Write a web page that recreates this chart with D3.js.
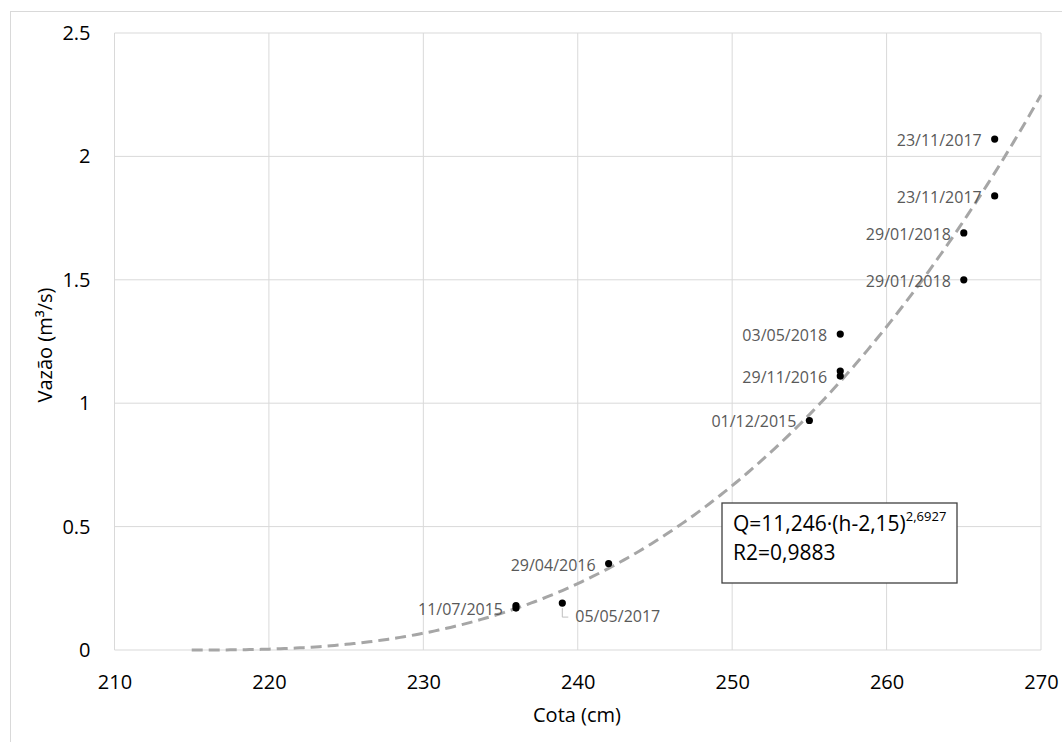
<!DOCTYPE html>
<html>
<head>
<meta charset="utf-8">
<script src="https://cdn.jsdelivr.net/npm/d3@7"></script>
<style>
  body { margin: 0; background: #fff; }
  svg text { font-family: "Open Sans", sans-serif; }
</style>
</head>
<body>
<div class="chart"></div>
<script>
// measured points (cota in cm, vazao in m3/s)
var cota = [236, 236, 239, 242, 255, 257, 257, 257, 265, 265, 267, 267];
var vazao = [0.17, 0.18, 0.19, 0.35, 0.93, 1.11, 1.13, 1.28, 1.50, 1.69, 1.84, 2.07];
var dateLabels = ['11/07/2015', '', '05/05/2017', '29/04/2016', '01/12/2015', '29/11/2016', '',
    '03/05/2018', '29/01/2018', '29/01/2018', '23/11/2017', '23/11/2017'];

var xTicks = [210, 220, 230, 240, 250, 260, 270];
var yTicks = [0, 0.5, 1, 1.5, 2, 2.5];

// fitted power curve shown in the box: Q = a*(h - h0)^b, h in m
var fitParams = [11.246, 2.15, 2.6927];
var fitRange = [215, 270];

var W = 1062, H = 742;
var margin = { top: 33, right: 21, bottom: 92, left: 114.5 };
var width = W - margin.left - margin.right;
var height = H - margin.top - margin.bottom;

var svg = d3.select('.chart')
    .append('svg')
    .attr('width', W)
    .attr('height', H);

// outer chart frame
svg.append('rect')
    .attr('x', 10.5).attr('y', 11.5)
    .attr('width', W + 20).attr('height', H + 20)
    .attr('fill', 'none')
    .attr('stroke', '#d9d9d9');

var g = svg.append('g')
    .attr('transform', 'translate(' + margin.left + ',' + margin.top + ')');

var x = d3.scaleLinear().domain([210, 270]).range([0, width]);
var y = d3.scaleLinear().domain([0, 2.5]).range([height, 0]);

// grid
g.selectAll('.vgrid').data(xTicks).enter().append('line')
    .attr('x1', d => x(d)).attr('x2', d => x(d))
    .attr('y1', 0).attr('y2', height)
    .attr('stroke', '#d9d9d9').attr('stroke-width', 1);
g.selectAll('.hgrid').data(yTicks).enter().append('line')
    .attr('x1', 0).attr('x2', width)
    .attr('y1', d => y(d)).attr('y2', d => y(d))
    .attr('stroke', '#d9d9d9').attr('stroke-width', 1);

// axes (labels only)
var xAxis = g.append('g')
    .attr('transform', 'translate(0,' + height + ')')
    .call(d3.axisBottom(x).tickValues(xTicks).tickSize(0).tickPadding(25));
var yAxis = g.append('g')
    .call(d3.axisLeft(y).tickValues(yTicks).tickSize(0).tickPadding(24)
        .tickFormat(d => String(d)));
[xAxis, yAxis].forEach(function (a) {
    a.select('.domain').remove();
    a.selectAll('text')
        .style('font-family', '"Open Sans", sans-serif')
        .style('font-size', '20px')
        .attr('fill', '#000');
});

// axis titles
svg.append('text')
    .attr('x', 577).attr('y', 722)
    .attr('text-anchor', 'middle')
    .style('font-size', '20px')
    .text('Cota (cm)');
svg.append('text')
    .attr('transform', 'translate(52,345) rotate(-90)')
    .attr('text-anchor', 'middle')
    .style('font-size', '20px')
    .text('Vazão (m³/s)');

// trend line
var curve = d3.range(fitRange[0], fitRange[1] + 0.25, 0.25).map(function (h) {
    return [h, fitParams[0] * Math.pow(h / 100 - fitParams[1], fitParams[2])];
});
g.append('path')
    .datum(curve)
    .attr('d', d3.line().x(d => x(d[0])).y(d => y(d[1])))
    .attr('fill', 'none')
    .attr('stroke', '#a6a6a6')
    .attr('stroke-width', 3)
    .attr('stroke-dasharray', '11,6');

// points
var pts = cota.map((c, i) => ({ c: c, q: vazao[i], label: dateLabels[i] }));

g.selectAll('circle').data(pts).enter().append('circle')
    .attr('cx', d => x(d.c))
    .attr('cy', d => y(d.q))
    .attr('r', 3.6)
    .attr('fill', '#000');

// data labels
pts.forEach(function (d) {
    if (!d.label) return;
    var px = x(d.c), py = y(d.q);
    if (d.label === '05/05/2017') {
        g.append('path')
            .attr('d', 'M' + px + ',' + (py + 5) + 'V' + (py + 14) + 'H' + (px + 6))
            .attr('fill', 'none')
            .attr('stroke', '#bfbfbf');
        g.append('text')
            .attr('x', px + 13).attr('y', py + 13)
            .attr('dominant-baseline', 'central')
            .style('font-size', '16px')
            .attr('fill', '#595959')
            .text(d.label);
    } else {
        g.append('text')
            .attr('x', px - 13).attr('y', py + 1)
            .attr('text-anchor', 'end')
            .attr('dominant-baseline', 'central')
            .style('font-size', '16px')
            .attr('fill', '#595959')
            .text(d.label);
    }
});

// equation box
var box = svg.append('g').attr('transform', 'translate(722,503)');
box.append('rect')
    .attr('width', 235).attr('height', 80)
    .attr('fill', '#fff')
    .attr('stroke', '#404040')
    .attr('stroke-width', 1.3);
var eq = box.append('text')
    .attr('x', 11).attr('y', 28)
    .style('font-size', '21px')
    .attr('fill', '#000');
eq.append('tspan').text('Q=11,246·(h-2,15)');
eq.append('tspan').attr('dy', -10).style('font-size', '13px').text('2,6927');
box.append('text')
    .attr('x', 11).attr('y', 57)
    .style('font-size', '21px')
    .attr('fill', '#000')
    .text('R2=0,9883');
</script>
</body>
</html>
